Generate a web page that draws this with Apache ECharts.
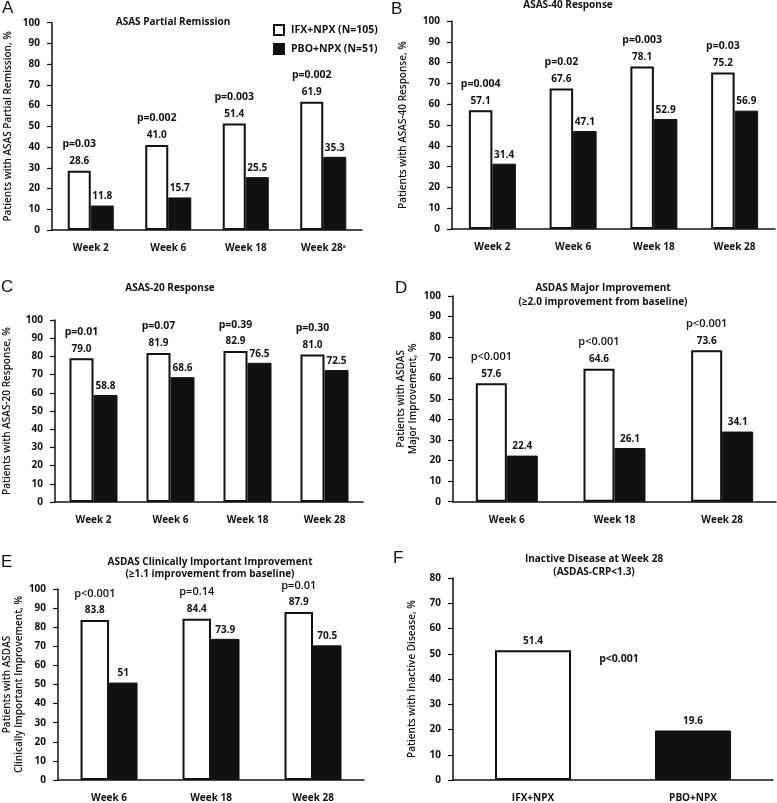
<!DOCTYPE html>
<html>
<head>
<meta charset="utf-8">
<script src="https://cdn.jsdelivr.net/npm/echarts@6/dist/echarts.min.js"></script>
<style>
html,body{margin:0;padding:0;background:#fff;}
#c{width:777px;height:803px;}
</style>
</head>
<body>
<div id="c"></div>
<script>
// ---------- DATA ----------
const seriesNames = ["IFX+NPX (N=105)", "PBO+NPX (N=51)"];

const catA = ["Week 2", "Week 6", "Week 18", "Week 28ᵃ"];
const ifxA = ["28.6", "41.0", "51.4", "61.9"];
const pboA = ["11.8", "15.7", "25.5", "35.3"];
const pA = ["p=0.03", "p=0.002", "p=0.003", "p=0.002"];

const catB = ["Week 2", "Week 6", "Week 18", "Week 28"];
const ifxB = ["57.1", "67.6", "78.1", "75.2"];
const pboB = ["31.4", "47.1", "52.9", "56.9"];
const pB = ["p=0.004", "p=0.02", "p=0.003", "p=0.03"];

const catC = ["Week 2", "Week 6", "Week 18", "Week 28"];
const ifxC = ["79.0", "81.9", "82.9", "81.0"];
const pboC = ["58.8", "68.6", "76.5", "72.5"];
const pC = ["p=0.01", "p=0.07", "p=0.39", "p=0.30"];

const catD = ["Week 6", "Week 18", "Week 28"];
const ifxD = ["57.6", "64.6", "73.6"];
const pboD = ["22.4", "26.1", "34.1"];
const pD = ["p<0.001", "p<0.001", "p<0.001"];

const catE = ["Week 6", "Week 18", "Week 28"];
const ifxE = ["83.8", "84.4", "87.9"];
const pboE = ["51", "73.9", "70.5"];
const pE = ["p<0.001", "p=0.14", "p=0.01"];

const catF = ["IFX+NPX", "PBO+NPX"];
const valF = ["51.4", "19.6"];
const pF = "p<0.001";
const pFLevel = 48;

const yNames = [
  "Patients with ASAS Partial Remission, %",
  "Patients with ASAS-40 Response, %",
  "Patients with ASAS-20 Response, %",
  "Patients with ASDAS\nMajor Improvement, %",
  "Patients with ASDAS\nClinically Important Improvement, %",
  "Patients with Inactive Disease, %"
];
const titles = [
  "ASAS Partial Remission",
  "ASAS-40 Response",
  "ASAS-20 Response",
  "ASDAS Major Improvement\n(≥2.0 improvement from baseline)",
  "ASDAS Clinically Important Improvement\n(≥1.1 improvement from baseline)",
  "Inactive Disease at Week 28\n(ASDAS-CRP<1.3)"
];
const letters = ["A", "B", "C", "D", "E", "F"];

// ---------- LAYOUT / STYLE ----------
const FONT = "Open Sans";
const INK = "#111111";
const grids = [
  {left: 52, top: 22.7, width: 310, height: 207.3},
  {left: 452, top: 21, width: 323, height: 208},
  {left: 52, top: 320, width: 311, height: 182},
  {left: 453, top: 296, width: 323, height: 205.7},
  {left: 52, top: 589, width: 312, height: 192},
  {left: 453, top: 578, width: 320, height: 203}
];
const nameGaps = [38, 43, 42, 34, 28, 35];
const barWidths = [23, 23.5, 24, 31, 28.5, 76];
const pBold = [true, true, true, false, false, false];

const titlePos = [
  {x: 173, y: 16, lh: 13},
  {x: 568, y: -1, lh: 13},
  {x: 170, y: 282, lh: 13},
  {x: 603, y: 281, lh: 14},
  {x: 210, y: 556, lh: 12},
  {x: 594, y: 552, lh: 13.5}
];
const letterPos = [
  {x: 2, y: 0}, {x: 391, y: 1}, {x: 1, y: 279},
  {x: 395, y: 280}, {x: 1, y: 554}, {x: 393, y: 550}
];

const panels = [
  {cat: catA, ifx: ifxA, pbo: pboA, p: pA},
  {cat: catB, ifx: ifxB, pbo: pboB, p: pB},
  {cat: catC, ifx: ifxC, pbo: pboC, p: pC},
  {cat: catD, ifx: ifxD, pbo: pboD, p: pD},
  {cat: catE, ifx: ifxE, pbo: pboE, p: pE}
];

const axisLineStyle = {color: INK, width: 1.5};

const option = {
  backgroundColor: "#fff",
  animation: false,
  textStyle: {fontFamily: FONT, color: INK},
  grid: grids,
  title: [],
  legend: {
    left: 268, top: 19, orient: "vertical", itemGap: 7,
    itemWidth: 10, itemHeight: 10, icon: "rect",
    data: seriesNames,
    selectedMode: false,
    textStyle: {fontFamily: FONT, fontSize: 10.5, fontWeight: "bold", color: INK, padding: [0, 0, 0, 2]}
  },
  xAxis: [],
  yAxis: [],
  series: [],
  graphic: []
};

titles.forEach((t, i) => {
  option.title.push({
    text: t, left: titlePos[i].x, top: titlePos[i].y, textAlign: "center", padding: 0,
    textStyle: {fontFamily: FONT, fontSize: 10, fontWeight: "bold", color: INK, lineHeight: titlePos[i].lh}
  });
  option.title.push({
    text: letters[i], left: letterPos[i].x, top: letterPos[i].y, padding: 0,
    textStyle: {fontFamily: "Liberation Sans", fontSize: 17, fontWeight: "normal", color: INK}
  });
});

for (let i = 0; i < 6; i++) {
  const cats = i < 5 ? panels[i].cat : catF;
  option.xAxis.push({
    type: "category", gridIndex: i, data: cats,
    axisLine: {lineStyle: axisLineStyle},
    axisTick: {length: 5, lineStyle: {color: INK, width: 1.2}},
    axisLabel: {fontFamily: FONT, fontSize: 10, fontWeight: "bold", color: INK, margin: 13}
  });
  option.yAxis.push({
    type: "value", gridIndex: i, min: 0, max: i < 5 ? 100 : 80, interval: 10,
    name: yNames[i], nameLocation: "middle", nameGap: nameGaps[i],
    nameTextStyle: {fontFamily: FONT, fontSize: 10, fontWeight: 600, color: INK, lineHeight: 12},
    splitLine: {show: false},
    axisLine: {show: true, lineStyle: axisLineStyle},
    axisTick: {show: true, length: 5, lineStyle: {color: INK, width: 1.2}},
    axisLabel: {fontFamily: FONT, fontSize: 10, fontWeight: "bold", color: INK, margin: 12}
  });
}

panels.forEach((pn, i) => {
  option.series.push({
    name: seriesNames[0], type: "bar", xAxisIndex: i, yAxisIndex: i,
    data: pn.ifx.map(Number), barWidth: barWidths[i], barGap: "0%",
    itemStyle: {color: "#ffffff", borderColor: INK, borderWidth: 2},
    label: {
      show: true, position: "top", distance: 3,
      formatter: (p) => `{p|${pn.p[p.dataIndex]}}\n{v|${pn.ifx[p.dataIndex]}}`,
      rich: {
        p: {fontFamily: FONT, fontSize: pBold[i] ? 10.5 : 11, fontWeight: pBold[i] ? "bold" : 600, color: INK, lineHeight: 21},
        v: {fontFamily: FONT, fontSize: 10, fontWeight: "bold", color: INK, lineHeight: 13}
      }
    }
  });
  option.series.push({
    name: seriesNames[1], type: "bar", xAxisIndex: i, yAxisIndex: i,
    data: pn.pbo.map(Number), barWidth: barWidths[i], barGap: "0%",
    itemStyle: {color: INK, borderColor: INK, borderWidth: 1},
    label: {
      show: true, position: "top", distance: 4,
      formatter: (p) => pn.pbo[p.dataIndex],
      fontFamily: FONT, fontSize: 10, fontWeight: "bold", color: INK
    }
  });
});

option.series.push({
  name: "F", type: "bar", xAxisIndex: 5, yAxisIndex: 5, barWidth: barWidths[5],
  data: valF.map((v, k) => ({
    value: Number(v),
    itemStyle: k === 0 ? {color: "#ffffff", borderColor: INK, borderWidth: 2} : {color: INK, borderColor: INK, borderWidth: 1}
  })),
  label: {
    show: true, position: "top", distance: 4,
    formatter: (p) => valF[p.dataIndex],
    fontFamily: FONT, fontSize: 10, fontWeight: "bold", color: INK
  }
});

const chart = echarts.init(document.getElementById("c"), null, {renderer: "canvas"});
chart.setOption(option);

// p-value annotation for panel F, positioned between the two categories via the axis scales
const p0 = chart.convertToPixel({xAxisIndex: 5, yAxisIndex: 5}, [catF[0], pFLevel]);
const p1 = chart.convertToPixel({xAxisIndex: 5, yAxisIndex: 5}, [catF[1], pFLevel]);
chart.setOption({
  graphic: [{
    type: "text", x: (p0[0] + p1[0]) / 2 + 6, y: p0[1],
    style: {text: pF, fontFamily: FONT, fontSize: 10.5, fontWeight: "bold", fill: INK, align: "center", verticalAlign: "middle"}
  }]
});
</script>
</body>
</html>
